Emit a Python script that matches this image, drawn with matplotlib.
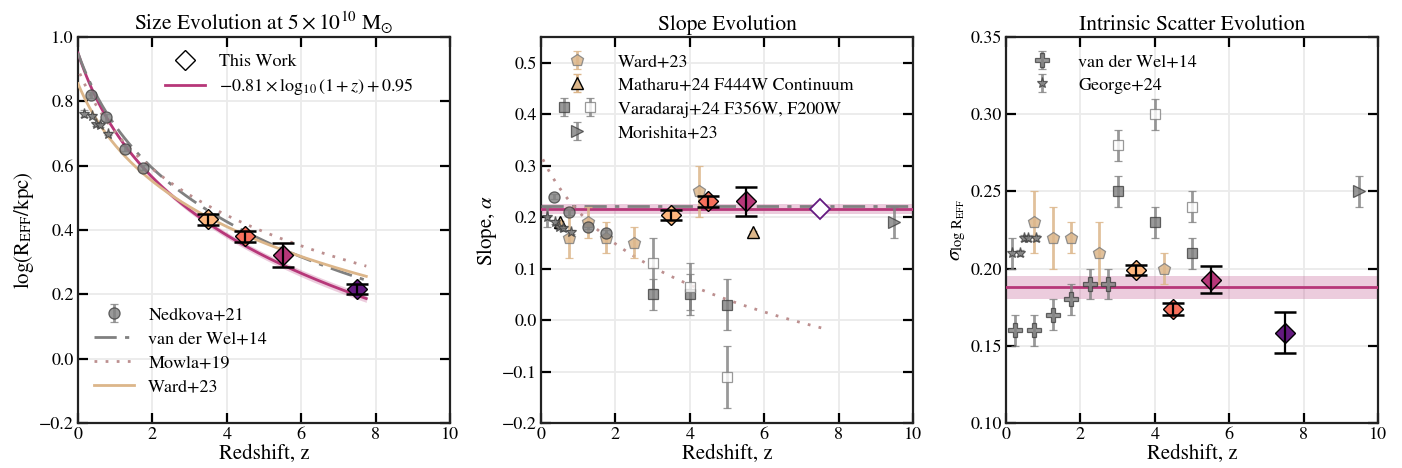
import numpy as np
import matplotlib
matplotlib.use("Agg")
import matplotlib.pyplot as plt
from matplotlib.lines import Line2D
from matplotlib.legend_handler import HandlerTuple

plt.rcParams['font.family'] = ['STIXGeneral', 'DejaVu Serif']
plt.rcParams['mathtext.fontset'] = 'stix'

# ---------------- data ----------------
# This Work
z_tw = [3.5, 4.5, 5.5, 7.5]
cval_tw = [0.85, 0.7, 0.5, 0.3]          # magma colormap positions
size_tw = [0.434, 0.381, 0.323, 0.217]
size_tw_err = [0.017, 0.017, 0.038, 0.015]
slope_tw = [0.204, 0.231, 0.231, 0.215]
slope_tw_err = [0.010, 0.011, 0.028, 0.0]
scat_tw = [0.199, 0.174, 0.1927, 0.1586]
scat_tw_err = [0.0033, 0.004, 0.0087, 0.013]
tw_size_a, tw_size_b = -0.81, 0.95
tw_slope, tw_slope_lo, tw_slope_hi = 0.216, 0.207, 0.225
tw_scat, tw_scat_lo, tw_scat_hi = 0.188, 0.180, 0.1955

# literature relations: y = a + b*log10(1+z)
vdw_size = (0.95, -0.75)
mowla_size = (0.90, -0.65)
ward_size = (0.855, -0.636)
mowla_slope = (0.32, -0.36)
vdw_slope = 0.221

# Nedkova+21
z_ned = [0.36, 0.76, 1.26, 1.75]
size_ned = [0.82, 0.75, 0.653, 0.593]
size_ned_err = [0.01, 0.01, 0.008, 0.008]
slope_ned = [0.24, 0.21, 0.181, 0.17]
slope_ned_err = [0.005, 0.005, 0.005, 0.005]

# George+24
z_geo = [0.17, 0.38, 0.48, 0.58, 0.81]
size_geo = [0.762, 0.755, 0.728, 0.726, 0.70]
size_geo_err = [0.01, 0.005, 0.005, 0.005, 0.005]
slope_geo = [0.20, 0.19, 0.18, 0.178, 0.171]
slope_geo_err = [0.02, 0.004, 0.004, 0.004, 0.004]
scat_geo = [0.21, 0.21, 0.22, 0.22, 0.22]
scat_geo_err = [0.01, 0.002, 0.002, 0.002, 0.002]

# Ward+23
z_ward = [0.75, 1.25, 1.75, 2.5, 4.25]
slope_ward = [0.16, 0.19, 0.16, 0.15, 0.25]
slope_ward_lo = [0.04, 0.03, 0.03, 0.03, 0.05]
slope_ward_hi = [0.06, 0.03, 0.03, 0.03, 0.05]
scat_ward = [0.23, 0.22, 0.22, 0.21, 0.20]
scat_ward_err = [0.02, 0.02, 0.01, 0.02, 0.01]

# Matharu+24
z_mat = [0.5, 5.7]
slope_mat = [0.19, 0.171]
slope_mat_err = [0.003, 0.003]

# Varadaraj+24 (F356W filled, F200W open)
z_var = [3.0, 4.0, 5.0]
slope_var356 = [0.05, 0.05, 0.03]
slope_var356_err = [0.03, 0.04, 0.05]
slope_var200 = [0.11, 0.065, -0.11]
slope_var200_err = [0.05, 0.045, 0.06]
scat_var356 = [0.25, 0.23, 0.21]
scat_var200 = [0.28, 0.30, 0.24]
scat_var_err = [0.01, 0.01, 0.01]

# Morishita+23
z_mor = [9.5]
slope_mor = [0.19]
slope_mor_err = [0.03]
scat_mor = [0.25]
scat_mor_err = [0.01]

# van der Wel+14 scatter
z_vdw = [0.25, 0.75, 1.25, 1.75, 2.25, 2.75]
scat_vdw = [0.16, 0.16, 0.17, 0.18, 0.19, 0.19]
scat_vdw_err = [0.01, 0.01, 0.01, 0.01, 0.01, 0.01]

# ---------------- styles ----------------
MAG = '#b73779'
GRAY = '#808080'
GEDGE = '#404040'
TAN = '#dcb68a'
ROSY = '#bc8f8f'
cmap = plt.get_cmap('magma')

fig = plt.figure(figsize=(14.02, 4.68), dpi=100)
W = 372 / 1402
B = 1 - 423 / 468
H = 386 / 468
lefts = [78 / 1402, 541 / 1402, 1006 / 1402]
axes = [fig.add_axes([l, B, W, H]) for l in lefts]

for ax in axes:
    ax.set_xlim(0, 10)
    ax.set_xticks([0, 2, 4, 6, 8, 10])
    ax.grid(True, color='#ebebeb', lw=1.3, zorder=0)
    ax.set_axisbelow(True)
    ax.tick_params(direction='in', length=7, width=1.6, top=True, right=True,
                   labelsize=13, pad=3)
    for s in ax.spines.values():
        s.set_linewidth(1.6)
        s.set_color('#222222')
    ax.set_xlabel('Redshift, z', fontsize=15, labelpad=1)

gkw = dict(ecolor=GRAY, elinewidth=2, capsize=3, capthick=1.5, mec=GEDGE,
           mew=0.9, ls='none', alpha=0.8)
tkw = dict(ecolor=TAN, elinewidth=2, capsize=3, capthick=1.5, ls='none')


def tw_points(ax, yv, ye):
    for z, y, e, c in zip(z_tw, yv, ye, cval_tw):
        col = cmap(c)
        if e == 0.0:
            ax.plot([z], [y], marker='D', ms=10, mfc='white', mec=col,
                    mew=1.3, ls='none', zorder=6)
        else:
            ax.plot([z], [y], marker='D', ms=10, mfc=col, mec='black',
                    mew=1.0, ls='none', zorder=6)
            ax.errorbar([z], [y], yerr=[e], fmt='none', ecolor='black',
                        elinewidth=1.6, capsize=8, capthick=1.8, zorder=7)


# ---------------- panel 1 ----------------
ax = axes[0]
zz = np.linspace(0, 7.75, 200)
L = np.log10(1 + zz)
ytw = tw_size_a * L + tw_size_b
band = np.sqrt(0.004 ** 2 + (0.012 * L) ** 2)
ax.fill_between(zz, ytw - band, ytw + band, color=MAG, alpha=0.25, lw=0, zorder=2)
h_tw_line, = ax.plot(zz, ytw, color=MAG, lw=2, zorder=3)
h_vdw, = ax.plot(zz, vdw_size[0] + vdw_size[1] * L, color=GRAY, lw=2,
                 ls=(0, (8, 3, 1.5, 3)), zorder=3)
zm = np.linspace(0.05, 7.75, 200)
h_mow, = ax.plot(zm, mowla_size[0] + mowla_size[1] * np.log10(1 + zm), color=ROSY,
                 lw=2, ls=(0, (1, 3)), zorder=3)
h_ward, = ax.plot(zz, ward_size[0] + ward_size[1] * L, color=TAN, lw=2, zorder=3)
h_ned = ax.errorbar(z_ned, size_ned, yerr=size_ned_err, marker='o', ms=8,
                    mfc=GRAY, zorder=4, **gkw)
ax.errorbar(z_geo, size_geo, yerr=size_geo_err, marker='*', ms=8, mfc=GRAY,
            zorder=4, **gkw)
tw_points(ax, size_tw, size_tw_err)
ax.set_ylim(-0.2, 1.0)
ax.set_yticks(np.arange(-0.2, 1.01, 0.2))
ax.set_yticklabels(['\u22120.2', '0.0', '0.2', '0.4', '0.6', '0.8', '1.0'])
ax.set_ylabel(r'log(R$_{\rm EFF}$/kpc)', fontsize=15, labelpad=2)
ax.set_title(r'Size Evolution at $5\times10^{10}$ M$_{\odot}$', fontsize=15.5, pad=5)
h_tw = Line2D([], [], marker='D', ms=10, mfc='white', mec='black', mew=1.0, ls='none')
leg1 = ax.legend([h_tw, h_tw_line], ['This Work', r'$-0.81\times\log_{10}(1+z)+0.95$'],
                 loc='upper left', bbox_to_anchor=(0.19, 1.0), frameon=False,
                 fontsize=13, handlelength=2.2, labelspacing=0.35)
ax.add_artist(leg1)
ax.legend([h_ned, h_vdw, h_mow, h_ward],
          ['Nedkova+21', 'van der Wel+14', 'Mowla+19', 'Ward+23'],
          loc='lower left', bbox_to_anchor=(0.0, 0.03), frameon=False,
          fontsize=13, handlelength=2.2, labelspacing=0.4)

# ---------------- panel 2 ----------------
ax = axes[1]
ax.axhspan(tw_slope_lo, tw_slope_hi, color=MAG, alpha=0.25, lw=0, zorder=2)
ax.axhline(vdw_slope, color=GRAY, lw=2, ls=(0, (8, 3, 1.5, 3)), zorder=3)
ax.axhline(tw_slope, color=MAG, lw=2, zorder=3)
ax.plot(zm, mowla_slope[0] + mowla_slope[1] * np.log10(1 + zm), color=ROSY,
        lw=2, ls=(0, (1, 3)), zorder=3)
h_ward_p = ax.errorbar(z_ward, slope_ward, yerr=[slope_ward_lo, slope_ward_hi],
                       marker='p', ms=9, mfc=TAN, mec=GRAY, mew=0.9, alpha=0.85,
                       zorder=4, **tkw)
h_mat = ax.errorbar(z_mat, slope_mat, yerr=slope_mat_err, marker='^', ms=8,
                    mfc=TAN, mec='black', mew=1.0, zorder=4, **tkw)
h_v356 = ax.errorbar(z_var, slope_var356, yerr=slope_var356_err, marker='s', ms=7.5,
                     mfc=GRAY, zorder=4, **gkw)
h_v200 = ax.errorbar(z_var, slope_var200, yerr=slope_var200_err, marker='s', ms=7.5,
                     mfc='white', zorder=4, **{**gkw, 'mec': GRAY})
h_mor = ax.errorbar(z_mor, slope_mor, yerr=slope_mor_err, marker='>', ms=9,
                    mfc=GRAY, zorder=4, **gkw)
ax.errorbar(z_ned, slope_ned, yerr=slope_ned_err, marker='o', ms=8, mfc=GRAY,
            zorder=4, **gkw)
ax.errorbar(z_geo, slope_geo, yerr=slope_geo_err, marker='*', ms=8, mfc=GRAY,
            zorder=4, **gkw)
tw_points(ax, slope_tw, slope_tw_err)
ax.set_ylim(-0.2, 0.55)
ax.set_yticks(np.arange(-0.2, 0.51, 0.1))
ax.set_yticklabels(['\u22120.2', '\u22120.1', '0.0', '0.1', '0.2', '0.3', '0.4', '0.5'])
ax.set_ylabel(r'Slope, $\alpha$', fontsize=15, labelpad=2)
ax.set_title('Slope Evolution', fontsize=15.5, pad=5)
ax.legend([h_ward_p, h_mat, (h_v356, h_v200), h_mor],
          ['Ward+23', 'Matharu+24 F444W Continuum', 'Varadaraj+24 F356W, F200W',
           'Morishita+23'],
          handler_map={tuple: HandlerTuple(ndivide=None, pad=0.6)},
          loc='upper left', bbox_to_anchor=(0.0, 1.0), frameon=False,
          fontsize=13, handlelength=2.2, handletextpad=1.15, labelspacing=0.4)

# ---------------- panel 3 ----------------
ax = axes[2]
ax.axhspan(tw_scat_lo, tw_scat_hi, color=MAG, alpha=0.25, lw=0, zorder=2)
ax.axhline(tw_scat, color=MAG, lw=2, zorder=3)
h_vdw_p = ax.errorbar(z_vdw, scat_vdw, yerr=scat_vdw_err, marker='P', ms=9.5,
                      mfc=GRAY, zorder=4, **gkw)
h_geo = ax.errorbar(z_geo, scat_geo, yerr=scat_geo_err, marker='*', ms=8,
                    mfc=GRAY, zorder=4, **gkw)
ax.errorbar(z_ward, scat_ward, yerr=scat_ward_err, marker='p', ms=9, mfc=TAN,
            mec=GRAY, mew=0.9, alpha=0.85, zorder=4, **tkw)
ax.errorbar(z_var, scat_var356, yerr=scat_var_err, marker='s', ms=7.5, mfc=GRAY,
            zorder=4, **gkw)
ax.errorbar(z_var, scat_var200, yerr=scat_var_err, marker='s', ms=7.5, mfc='white',
            zorder=4, **{**gkw, 'mec': GRAY})
ax.errorbar(z_mor, scat_mor, yerr=scat_mor_err, marker='>', ms=9, mfc=GRAY,
            zorder=4, **gkw)
tw_points(ax, scat_tw, scat_tw_err)
ax.set_ylim(0.10, 0.35)
ax.set_yticks(np.arange(0.10, 0.351, 0.05))
ax.set_yticklabels(['0.10', '0.15', '0.20', '0.25', '0.30', '0.35'])
ax.set_ylabel(r'$\sigma_{\log\,\rm R_{EFF}}$', fontsize=15, labelpad=2)
ax.set_title('Intrinsic Scatter Evolution', fontsize=15.5, pad=5)
ax.legend([h_vdw_p, h_geo], ['van der Wel+14', 'George+24'],
          loc='upper left', bbox_to_anchor=(0.0, 1.0), frameon=False,
          fontsize=13, handlelength=2.2, handletextpad=0.9, labelspacing=0.4)

fig.savefig('out.png', dpi=100)
